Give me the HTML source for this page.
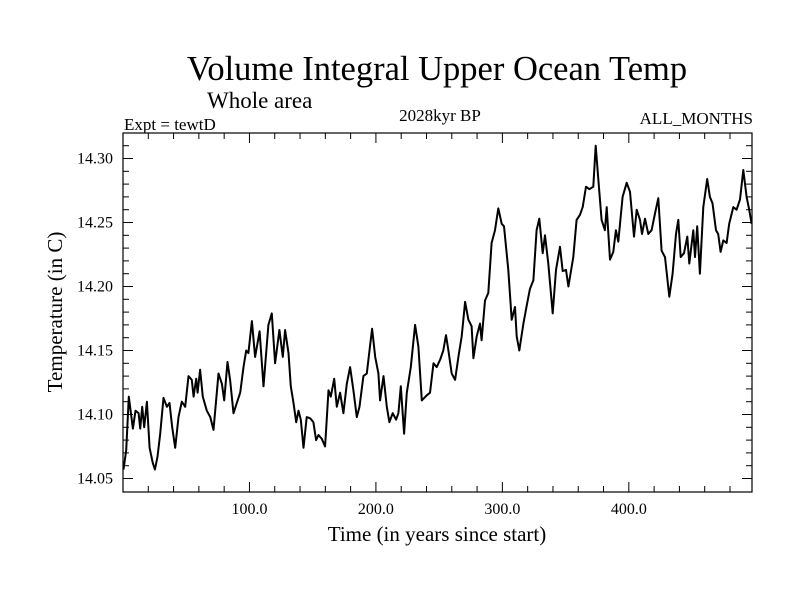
<!DOCTYPE html>
<html><head><meta charset="utf-8"><style>
body{margin:0;background:#fff;}
svg{display:block;font-family:"Liberation Serif",serif;}
</style></head><body>
<svg id="chart" width="800" height="600" viewBox="0 0 800 600" xmlns="http://www.w3.org/2000/svg">
<text x="437" y="80" font-size="34.5" text-anchor="middle">Volume Integral Upper Ocean Temp</text>
<text x="207" y="108" font-size="23">Whole area</text>
<text x="124" y="130" font-size="17">Expt = tewtD</text>
<text x="440" y="121" font-size="17" text-anchor="middle">2028kyr BP</text>
<text x="753" y="124" font-size="17" text-anchor="end">ALL_MONTHS</text>
<text x="437" y="541" font-size="21" text-anchor="middle">Time (in years since start)</text>
<text x="0" y="0" font-size="21" text-anchor="middle" transform="translate(62,312) rotate(-90)">Temperature (in C)</text>
<g id="axes"></g>
<path id="series" fill="none" stroke="#000" stroke-width="2" stroke-linejoin="round"/>
</svg>
<script>
const years=[0.4,2.5,4.6,7.8,9.9,12.3,13.6,15.2,16.8,18.9,21.0,23.6,25.2,27.3,29.4,32.0,34.7,36.8,38.9,41.3,43.9,46.5,49.2,51.8,54.4,55.8,57.9,59.0,61.0,63.1,66.3,69.0,71.6,75.5,78.2,80.0,82.6,84.7,87.4,90.0,92.7,95.3,97.4,99.2,101.9,104.5,108.0,111.1,115.0,117.7,120.3,123.7,126.4,128.2,130.9,132.7,134.8,137.0,138.8,140.6,142.7,145.3,148.0,150.6,152.7,154.6,157.2,159.8,162.5,164.3,167.0,169.1,171.7,174.3,177.0,179.6,182.2,184.9,187.0,190.1,192.8,194.9,197.0,199.4,202.0,203.3,206.0,208.6,210.7,213.3,216.0,217.8,219.7,222.3,224.4,227.6,231.0,233.6,236.3,240.2,242.8,245.5,248.1,250.8,253.3,255.4,257.3,259.9,262.6,265.2,267.8,270.5,273.1,275.7,277.1,279.7,282.3,283.6,286.3,288.9,291.5,294.2,296.8,299.5,301.3,304.7,307.4,310.0,311.3,313.4,316.6,319.2,321.8,324.5,327.1,329.2,331.9,333.7,336.3,339.8,342.4,345.6,347.7,350.3,352.2,356.1,358.7,361.4,363.5,366.1,368.8,371.9,373.8,375.9,378.5,381.1,382.5,385.1,387.7,389.8,391.7,395.1,398.3,400.9,404.1,406.2,408.8,410.4,412.8,415.4,418.0,420.7,423.3,425.9,428.6,432.0,434.6,437.3,439.1,441.0,443.6,446.2,447.8,451.0,452.3,454.1,456.2,458.9,462.0,464.1,466.2,468.9,470.7,472.6,474.7,477.3,479.4,482.6,485.2,487.9,490.5,493.1,495.2,497.1];
const temps=[14.057,14.072,14.114,14.089,14.103,14.101,14.089,14.106,14.090,14.110,14.074,14.062,14.057,14.067,14.085,14.113,14.106,14.109,14.090,14.074,14.098,14.110,14.106,14.130,14.127,14.114,14.128,14.117,14.135,14.114,14.103,14.098,14.088,14.132,14.124,14.111,14.141,14.127,14.101,14.109,14.117,14.137,14.150,14.148,14.173,14.145,14.165,14.122,14.170,14.179,14.140,14.166,14.145,14.166,14.148,14.122,14.109,14.094,14.103,14.096,14.074,14.098,14.097,14.094,14.080,14.084,14.081,14.075,14.119,14.114,14.128,14.106,14.117,14.101,14.124,14.137,14.119,14.098,14.106,14.130,14.132,14.150,14.167,14.145,14.132,14.111,14.130,14.106,14.094,14.101,14.096,14.101,14.122,14.085,14.117,14.137,14.170,14.153,14.111,14.115,14.117,14.140,14.137,14.143,14.150,14.162,14.150,14.132,14.127,14.145,14.161,14.188,14.174,14.169,14.144,14.161,14.171,14.158,14.189,14.195,14.234,14.244,14.261,14.249,14.247,14.213,14.174,14.184,14.161,14.150,14.171,14.185,14.198,14.205,14.244,14.253,14.226,14.240,14.218,14.179,14.213,14.231,14.212,14.213,14.200,14.223,14.252,14.256,14.262,14.278,14.276,14.278,14.310,14.283,14.252,14.244,14.262,14.221,14.227,14.244,14.235,14.270,14.281,14.274,14.239,14.260,14.252,14.241,14.253,14.241,14.244,14.257,14.269,14.228,14.223,14.192,14.210,14.241,14.252,14.223,14.226,14.239,14.218,14.244,14.223,14.247,14.210,14.262,14.284,14.270,14.265,14.244,14.241,14.227,14.236,14.234,14.249,14.262,14.260,14.268,14.291,14.270,14.260,14.249];
const xTickLabels=["100.0","200.0","300.0","400.0"];
const yTickLabels=["14.05","14.10","14.15","14.20","14.25","14.30"];

const L=123,R=752,T=133,B=492;
const X0=0,X1=497.4,Y0=14.30,YP0=158.5,YS=1280;
const xs=v=>L+(v-X0)/(X1-X0)*(R-L);
const ys=v=>YP0+(Y0-v)*YS;
const NS='http://www.w3.org/2000/svg';
const axes=document.getElementById('axes');
function mk(tag,attrs){const e=document.createElementNS(NS,tag);for(const k in attrs)e.setAttribute(k,attrs[k]);axes.appendChild(e);return e;}
const frame=mk('rect',{x:L,y:T,width:R-L,height:B-T,fill:'none',stroke:'#000','stroke-width':1.2});


for(let v=20;v<X1;v+=20){
  const x=xs(v),len=(v%100===0)?10:6;
  const t1=mk('line',{x1:x,x2:x,y1:B,y2:B-len,stroke:'#000','stroke-width':1});
  
  
  const t2=mk('line',{x1:x,x2:x,y1:T,y2:T+len,stroke:'#000','stroke-width':1});
  
  
}
for(let i=0;i<30;i++){
  const v=14.05+i*0.01;const y=ys(v);if(y<T||y>B)continue;
  const major=(i%5===0),len=major?10:6;
  const t1=mk('line',{x1:L,x2:L+len,y1:y,y2:y,stroke:'#000','stroke-width':1});
  
  
  const t2=mk('line',{x1:R,x2:R-len,y1:y,y2:y,stroke:'#000','stroke-width':1});
  
  
}
xTickLabels.forEach(s=>{
  const t=mk('text',{x:xs(parseFloat(s)),y:514,'font-size':16,'text-anchor':'middle'});
  
  
  t.textContent=s;
});
yTickLabels.forEach(s=>{
  const t=mk('text',{x:113,y:ys(parseFloat(s))+5,'font-size':16,'text-anchor':'end'});
  
  
  t.textContent=s;
});
document.getElementById('series').setAttribute('d',years.map((yr,i)=>(i?'L':'M')+xs(yr).toFixed(1)+' '+ys(temps[i]).toFixed(1)).join(' '));
</script>
</body></html>
